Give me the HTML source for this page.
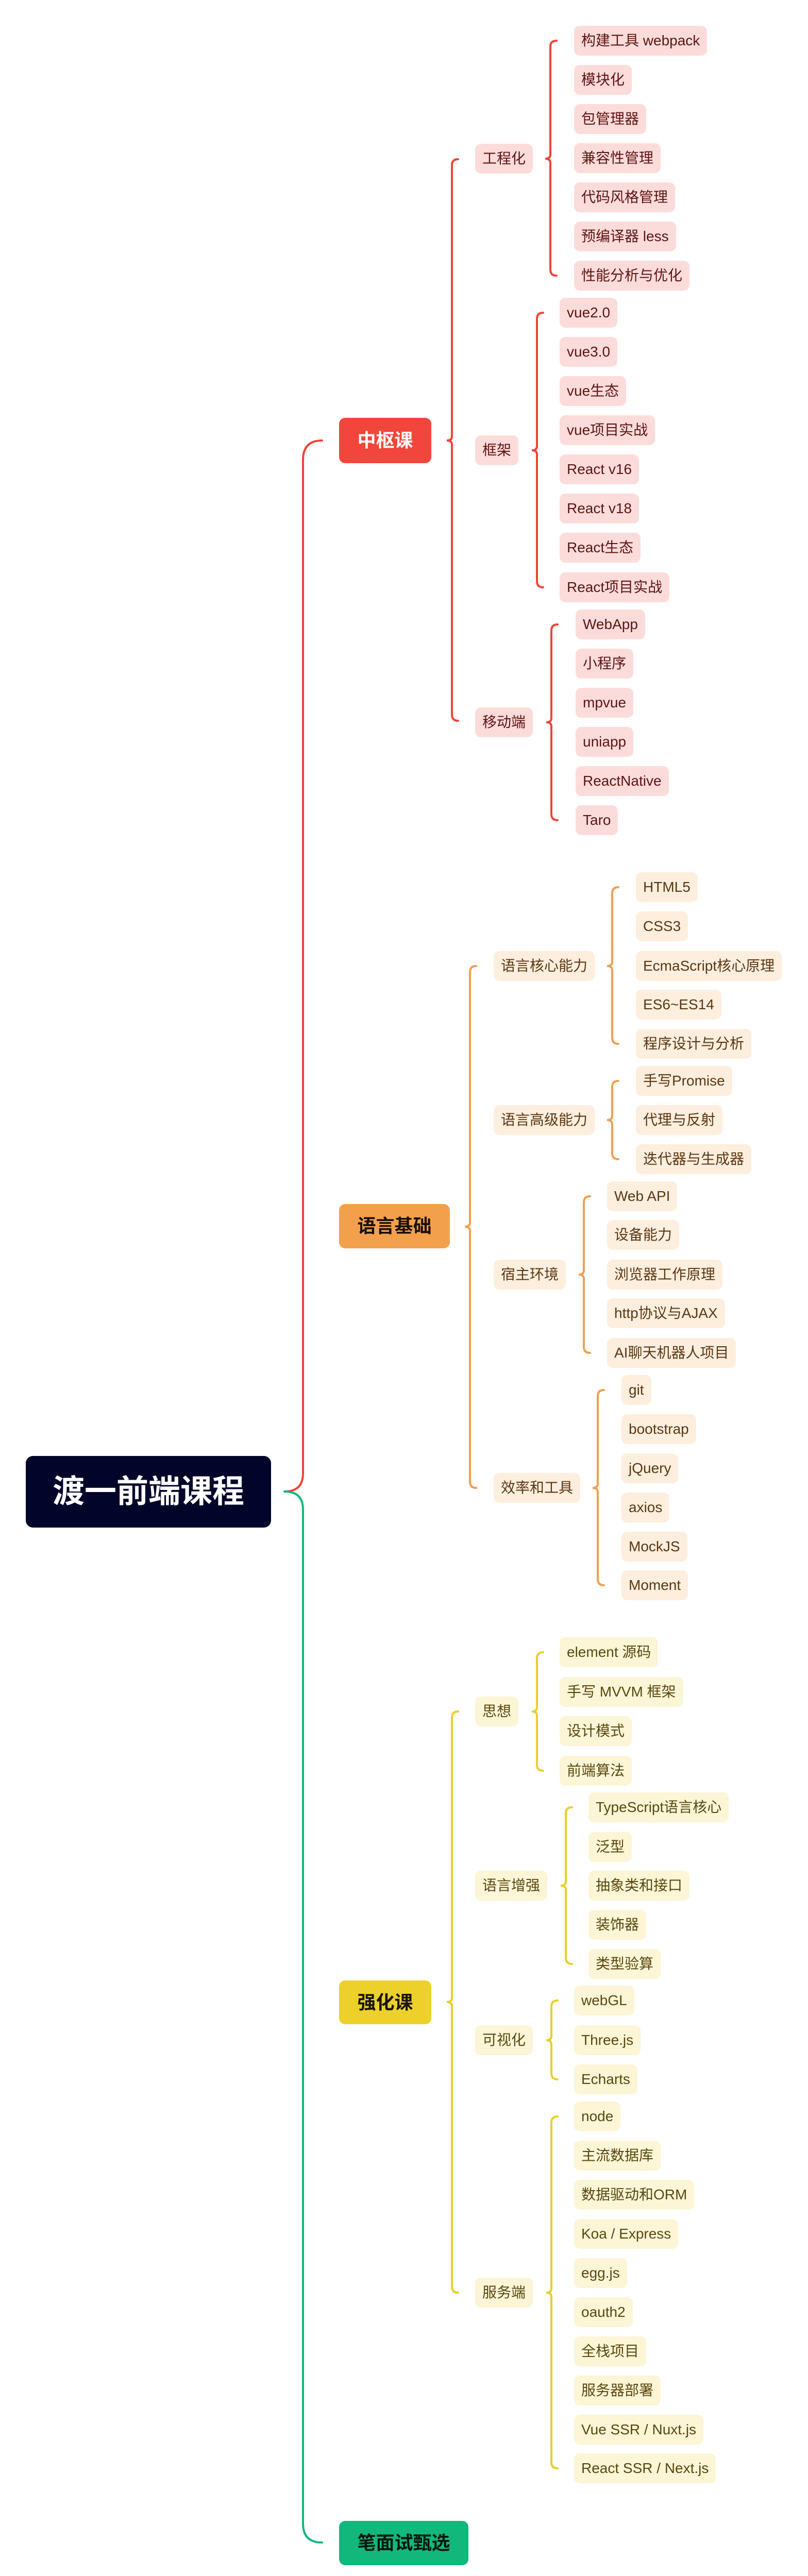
<!DOCTYPE html>
<html><head><meta charset="utf-8">
<style>
html{margin:0;padding:0;width:1568px;height:5100px;overflow:hidden;background:#fff;}
body{margin:0;padding:0;background:#fff;width:1568px;height:5100px;position:relative;overflow:hidden;font-family:"Liberation Sans","Noto Sans CJK SC",sans-serif;}
.p{position:absolute;height:58px;line-height:58px;padding:0 14px;border-radius:11px;font-size:28px;white-space:nowrap;}
.r{background:#fcdcda;color:#5e1414;}
.o{background:#fdeede;color:#5a3714;}
.y{background:#fcf5d6;color:#584810;}
.b{position:absolute;border-radius:12px;font-size:36px;font-weight:bold;text-align:center;white-space:nowrap;}
svg{position:absolute;left:0;top:0;display:block;}
</style></head><body>
<svg width="1568" height="5100" fill="none" stroke-width="4" stroke-linecap="round">
<path d="M625,855 Q588,855 588,893 L588,2860 Q588,2895 552,2895" stroke="#ef4438"/>
<path d="M552,2895 Q588,2895 588,2930 L588,4898 Q588,4935 625,4935" stroke="#13b77c"/>
<g stroke="#ef4438">
<path d="M889,309 Q877,309 877,321 L877,847 Q877,855 867,855 Q877,855 877,863 L877,1387 Q877,1399 889,1399"/>
<path d="M1080,79 Q1068,79 1068,91 L1068,300 Q1068,308 1058,308 Q1068,308 1068,316 L1068,523 Q1068,535 1080,535"/>
<path d="M1054,607 Q1042,607 1042,619 L1042,866 Q1042,874 1032,874 Q1042,874 1042,882 L1042,1128 Q1042,1140 1054,1140"/>
<path d="M1082,1212 Q1070,1212 1070,1224 L1070,1394 Q1070,1402 1060,1402 Q1070,1402 1070,1410 L1070,1580 Q1070,1592 1082,1592"/>
</g>
<g stroke="#eea052">
<path d="M924,1875 Q912,1875 912,1887 L912,2373 Q912,2381 902,2381 Q912,2381 912,2389 L912,2876 Q912,2888 924,2888"/>
<path d="M1200,1722 Q1188,1722 1188,1734 L1188,1867 Q1188,1875 1178,1875 Q1188,1875 1188,1883 L1188,2014 Q1188,2026 1200,2026"/>
<path d="M1200,2098 Q1188,2098 1188,2110 L1188,2166 Q1188,2174 1178,2174 Q1188,2174 1188,2182 L1188,2238 Q1188,2250 1200,2250"/>
<path d="M1145,2322 Q1133,2322 1133,2334 L1133,2466 Q1133,2474 1123,2474 Q1133,2474 1133,2482 L1133,2614 Q1133,2626 1145,2626"/>
<path d="M1172,2698 Q1160,2698 1160,2710 L1160,2880 Q1160,2888 1150,2888 Q1160,2888 1160,2896 L1160,3065 Q1160,3077 1172,3077"/>
</g>
<g stroke="#e8cf2c">
<path d="M889,3322 Q877,3322 877,3334 L877,3878 Q877,3886 867,3886 Q877,3886 877,3894 L877,4438 Q877,4450 889,4450"/>
<path d="M1054,3207 Q1042,3207 1042,3219 L1042,3314 Q1042,3322 1032,3322 Q1042,3322 1042,3330 L1042,3425 Q1042,3437 1054,3437"/>
<path d="M1110,3508 Q1098,3508 1098,3520 L1098,3652 Q1098,3660 1088,3660 Q1098,3660 1098,3668 L1098,3800 Q1098,3812 1110,3812"/>
<path d="M1082,3883 Q1070,3883 1070,3895 L1070,3952 Q1070,3960 1060,3960 Q1070,3960 1070,3968 L1070,4024 Q1070,4036 1082,4036"/>
<path d="M1082,4108 Q1070,4108 1070,4120 L1070,4442 Q1070,4450 1060,4450 Q1070,4450 1070,4458 L1070,4779 Q1070,4791 1082,4791"/>
</g>
</svg>

<div class="b" style="left:50px;top:2826px;width:476px;height:139px;line-height:139px;background:#02042a;color:#fff;font-size:62px;border-radius:14px;">渡一前端课程</div>
<div class="b" style="left:658px;top:811px;width:179px;height:88px;line-height:88px;background:#f2453b;color:#fff;">中枢课</div>
<div class="b" style="left:658px;top:2337px;width:215px;height:86px;line-height:86px;background:#f3a04c;color:#1a0f05;">语言基础</div>
<div class="b" style="left:658px;top:3844px;width:179px;height:85px;line-height:85px;background:#edd12a;color:#1a1605;">强化课</div>
<div class="b" style="left:658px;top:4893px;width:251px;height:86px;line-height:86px;background:#12b87b;color:#04180f;">笔面试甄选</div>

<div class="p r" style="left:922px;top:279px">工程化</div>
<div class="p r" style="left:922px;top:845px">框架</div>
<div class="p r" style="left:922px;top:1373px">移动端</div>
<div class="p r" style="left:1114px;top:50px">构建工具 webpack</div>
<div class="p r" style="left:1114px;top:126px">模块化</div>
<div class="p r" style="left:1114px;top:202px">包管理器</div>
<div class="p r" style="left:1114px;top:278px">兼容性管理</div>
<div class="p r" style="left:1114px;top:354px">代码风格管理</div>
<div class="p r" style="left:1114px;top:430px">预编译器 less</div>
<div class="p r" style="left:1114px;top:506px">性能分析与优化</div>
<div class="p r" style="left:1086px;top:578px">vue2.0</div>
<div class="p r" style="left:1086px;top:654px">vue3.0</div>
<div class="p r" style="left:1086px;top:730px">vue生态</div>
<div class="p r" style="left:1086px;top:806px">vue项目实战</div>
<div class="p r" style="left:1086px;top:882px">React v16</div>
<div class="p r" style="left:1086px;top:958px">React v18</div>
<div class="p r" style="left:1086px;top:1034px">React生态</div>
<div class="p r" style="left:1086px;top:1111px">React项目实战</div>
<div class="p r" style="left:1117px;top:1183px">WebApp</div>
<div class="p r" style="left:1117px;top:1259px">小程序</div>
<div class="p r" style="left:1117px;top:1335px">mpvue</div>
<div class="p r" style="left:1117px;top:1411px">uniapp</div>
<div class="p r" style="left:1117px;top:1487px">ReactNative</div>
<div class="p r" style="left:1117px;top:1563px">Taro</div>

<div class="p o" style="left:958px;top:1846px">语言核心能力</div>
<div class="p o" style="left:958px;top:2145px">语言高级能力</div>
<div class="p o" style="left:958px;top:2445px">宿主环境</div>
<div class="p o" style="left:958px;top:2859px">效率和工具</div>
<div class="p o" style="left:1234px;top:1693px">HTML5</div>
<div class="p o" style="left:1234px;top:1769px">CSS3</div>
<div class="p o" style="left:1234px;top:1846px">EcmaScript核心原理</div>
<div class="p o" style="left:1234px;top:1921px">ES6~ES14</div>
<div class="p o" style="left:1234px;top:1997px">程序设计与分析</div>
<div class="p o" style="left:1234px;top:2069px">手写Promise</div>
<div class="p o" style="left:1234px;top:2145px">代理与反射</div>
<div class="p o" style="left:1234px;top:2221px">迭代器与生成器</div>
<div class="p o" style="left:1178px;top:2293px">Web API</div>
<div class="p o" style="left:1178px;top:2368px">设备能力</div>
<div class="p o" style="left:1178px;top:2445px">浏览器工作原理</div>
<div class="p o" style="left:1178px;top:2520px">http协议与AJAX</div>
<div class="p o" style="left:1178px;top:2597px">AI聊天机器人项目</div>
<div class="p o" style="left:1206px;top:2669px">git</div>
<div class="p o" style="left:1206px;top:2745px">bootstrap</div>
<div class="p o" style="left:1206px;top:2821px">jQuery</div>
<div class="p o" style="left:1206px;top:2897px">axios</div>
<div class="p o" style="left:1206px;top:2973px">MockJS</div>
<div class="p o" style="left:1206px;top:3048px">Moment</div>

<div class="p y" style="left:922px;top:3293px">思想</div>
<div class="p y" style="left:922px;top:3631px">语言增强</div>
<div class="p y" style="left:922px;top:3931px">可视化</div>
<div class="p y" style="left:922px;top:4421px">服务端</div>
<div class="p y" style="left:1086px;top:3178px">element 源码</div>
<div class="p y" style="left:1086px;top:3255px">手写 MVVM 框架</div>
<div class="p y" style="left:1086px;top:3331px">设计模式</div>
<div class="p y" style="left:1086px;top:3408px">前端算法</div>
<div class="p y" style="left:1142px;top:3479px">TypeScript语言核心</div>
<div class="p y" style="left:1142px;top:3556px">泛型</div>
<div class="p y" style="left:1142px;top:3631px">抽象类和接口</div>
<div class="p y" style="left:1142px;top:3707px">装饰器</div>
<div class="p y" style="left:1142px;top:3783px">类型验算</div>
<div class="p y" style="left:1114px;top:3854px">webGL</div>
<div class="p y" style="left:1114px;top:3931px">Three.js</div>
<div class="p y" style="left:1114px;top:4007px">Echarts</div>
<div class="p y" style="left:1114px;top:4079px">node</div>
<div class="p y" style="left:1114px;top:4155px">主流数据库</div>
<div class="p y" style="left:1114px;top:4231px">数据驱动和ORM</div>
<div class="p y" style="left:1114px;top:4307px">Koa / Express</div>
<div class="p y" style="left:1114px;top:4383px">egg.js</div>
<div class="p y" style="left:1114px;top:4459px">oauth2</div>
<div class="p y" style="left:1114px;top:4535px">全栈项目</div>
<div class="p y" style="left:1114px;top:4611px">服务器部署</div>
<div class="p y" style="left:1114px;top:4687px">Vue SSR / Nuxt.js</div>
<div class="p y" style="left:1114px;top:4762px">React SSR / Next.js</div>

<div style="position:absolute;left:0;width:1568px;top:5038px;height:24px;line-height:24px;text-align:center;font-size:19px;font-weight:bold;color:#d2d2d2;letter-spacing:1px;">Presented with XMind</div>
</body></html>
